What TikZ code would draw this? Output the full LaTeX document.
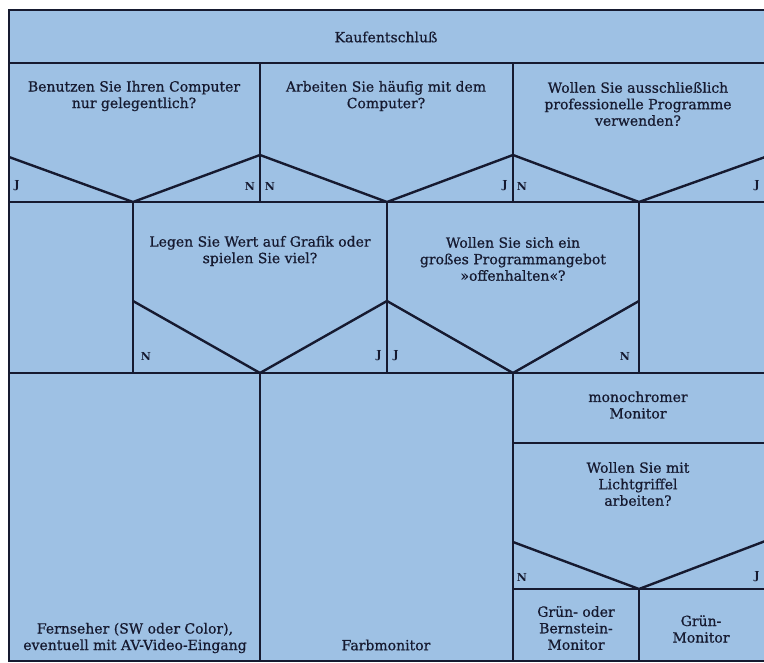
\documentclass[tikz,border=0pt]{standalone}
\usepackage{fontspec}
\setmainfont{DejaVu Serif}
\newfontfamily\slabfont{DejaVu Serif}[FakeBold=0.7]
\usetikzlibrary{positioning}
\definecolor{panel}{RGB}{158,193,228}
\definecolor{ink}{RGB}{22,26,48}

\begin{document}
\begin{tikzpicture}
      [x=1pt, y=-1pt, line width=2.4pt, draw=ink,
       frage/.style={align=center, text=ink, inner sep=0pt,
                     font=\slabfont\fontsize{14}{16.5}\selectfont},
       jn/.style={text=ink, inner sep=0pt, font=\bfseries\fontsize{11}{11}\selectfont}]
      \useasboundingbox[fill=white] (0,0) rectangle (764,663);
      \fill[panel] (9,10) rectangle (768,661);

      % grid points %
      \coordinate (tl) at (9,10);    \coordinate (tr) at (768,10);
      \coordinate (kl) at (9,63);    \coordinate (kr) at (768,63);
      \coordinate (al) at (9,202);   \coordinate (ar) at (768,202);
      \coordinate (bl) at (9,373);   \coordinate (br) at (768,373);
      \coordinate (el) at (9,661);   \coordinate (er) at (768,661);
      % first row of questions
      \coordinate (q1) at (260,63);  \coordinate (q1v) at (260,155);  \coordinate (q1b) at (260,202);
      \coordinate (q2) at (513,63);  \coordinate (q2v) at (513,155);  \coordinate (q2b) at (513,202);
      \coordinate (s0) at (9,157);   \coordinate (s3) at (768,156);
      \coordinate (v1) at (133,202); \coordinate (v2) at (387,202);   \coordinate (v3) at (639,202);
      % second row of questions
      \coordinate (w1) at (133,301); \coordinate (w2) at (387,301);   \coordinate (w3) at (639,301);
      \coordinate (w1b) at (133,373); \coordinate (w2b) at (387,373); \coordinate (w3b) at (639,373);
      \coordinate (x1) at (260,373); \coordinate (x2) at (513,373);
      % results
      \coordinate (x1e) at (260,661); \coordinate (x2e) at (513,661);
      \coordinate (ml) at (513,443); \coordinate (mr) at (768,443);
      \coordinate (ls) at (513,542); \coordinate (rs) at (768,540);
      \coordinate (gl) at (513,589); \coordinate (gr) at (768,589);
      \coordinate (gv) at (639,589); \coordinate (ge) at (639,661);

      % nodes %
      \node[frage] (kauf) at (386,37) {Kaufentschluß};
      \node[frage] (gelegentlich) at (134,96) {Benutzen Sie Ihren Computer\\nur gelegentlich?};
      \node[frage] (haeufig) at (386,96) {Arbeiten Sie häufig mit dem\\Computer?};
      \node[frage] (profi) at (638,104) {Wollen Sie ausschließlich\\professionelle Programme\\verwenden?};
      \node[frage] (grafik) at (260,251) {Legen Sie Wert auf Grafik oder\\spielen Sie viel?};
      \node[frage] (angebot) at (513,259) {Wollen Sie sich ein\\großes Programmangebot\\»offenhalten«?};
      \node[frage] (mono) at (638,405) {monochromer\\Monitor};
      \node[frage] (griffel) at (638,484) {Wollen Sie mit\\Lichtgriffel\\arbeiten?};
      \node[frage] (bernstein) at (576,628) {Grün- oder\\Bernstein-\\Monitor};
      \node[frage] (gruen) at (701,629) {Grün-\\Monitor};
      \node[frage] (fernseher) at (135,638) {Fernseher (SW oder Color),\\eventuell mit AV-Video-Eingang};
      \node[frage] (farbe) at (386,645) {Farbmonitor};

      \node[jn] (j1) at (17,186) {J};   \node[jn] (n1) at (250,186) {N};
      \node[jn] (n2) at (270,186) {N};  \node[jn] (j2) at (505,186) {J};
      \node[jn] (n3) at (522,186) {N};  \node[jn] (j3) at (757,186) {J};
      \node[jn] (n4) at (146,356) {N};  \node[jn] (j4) at (379,356) {J};
      \node[jn] (j5) at (396,356) {J};  \node[jn] (n5) at (625,356) {N};
      \node[jn] (n6) at (522,577) {N};  \node[jn] (j6) at (757,577) {J};

      % edges %
      \draw (tr) -- (tl) -- (el) -- (er);
      \draw (kl) -- (kr);
      \draw (al) -- (ar);
      \draw (bl) -- (br);
      \draw (q1) -- (q1b);
      \draw (q2) -- (q2b);
      \draw[line join=round] (s0) -- (v1) -- (q1v) -- (v2) -- (q2v) -- (v3) -- (s3);
      \draw (v1) -- (w1b);
      \draw (v2) -- (w2b);
      \draw (v3) -- (w3b);
      \draw[line join=round] (w1) -- (x1) -- (w2) -- (x2) -- (w3);
      \draw (x1) -- (x1e);
      \draw (x2) -- (x2e);
      \draw (ml) -- (mr);
      \draw (gl) -- (gr);
      \draw[line join=round] (ls) -- (gv) -- (rs);
      \draw (gv) -- (ge);

    \end{tikzpicture}
\end{document}
